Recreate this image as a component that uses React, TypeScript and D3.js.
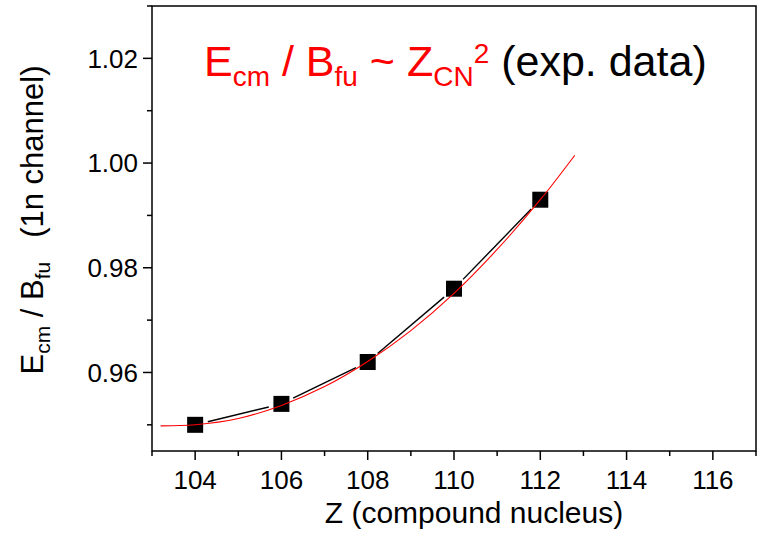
import React from "react";
import * as d3 from "d3";

const zValues = [104, 106, 108, 110, 112];
const ratioValues = [0.95, 0.954, 0.962, 0.976, 0.993];

// red fit curve
const fitZ = [103.2, 104, 105, 106, 107, 108, 109, 110, 111, 112, 112.8];
const fitRatio = [0.9498, 0.95, 0.9512, 0.9537, 0.9573, 0.9621, 0.968, 0.9751, 0.9835, 0.993, 1.0015];

const xMajorTicks = [104, 106, 108, 110, 112, 114, 116];
const xMinorTicks = [103, 105, 107, 109, 111, 113, 115, 117];
const yMajorTicks = [0.96, 0.98, 1.0, 1.02];
const yMinorTicks = [0.95, 0.97, 0.99, 1.01, 1.03];

const W = 761;
const H = 536;
const left = 152;
const right = 756;
const top = 6;
const bottom = 451;
const FONT = "'Liberation Sans', Arial, Helvetica, sans-serif";

export default function App() {
  const x = d3.scaleLinear().domain([103, 117]).range([left, right]);
  const y = d3.scaleLinear().domain([0.945, 1.03]).range([bottom, top]);

  const pts = zValues.map((z, i) => [x(z), y(ratioValues[i])] as [number, number]);
  const gap = 13;
  const segs: string[] = [];
  for (let i = 0; i < pts.length - 1; i++) {
    const [x1, y1] = pts[i];
    const [x2, y2] = pts[i + 1];
    const len = Math.hypot(x2 - x1, y2 - y1);
    const ux = (x2 - x1) / len;
    const uy = (y2 - y1) / len;
    segs.push(
      `M${x1 + ux * gap},${y1 + uy * gap}L${x2 - ux * gap},${y2 - uy * gap}`
    );
  }

  const fitLine = d3
    .line<number>()
    .x((d) => x(d))
    .y((_, i) => y(fitRatio[i]))
    .curve(d3.curveCatmullRom)(fitZ);

  const fmtY = d3.format(".2f");
  const ms = 16;

  return (
    <svg
      width={W}
      height={H}
      style={{ position: "absolute", left: 0, top: 0, background: "#fff" }}
      fontFamily={FONT}
    >
      <rect x={0} y={0} width={W} height={H} fill="#fff" />
      {/* frame */}
      <rect
        x={left}
        y={top}
        width={right - left}
        height={bottom - top}
        fill="none"
        stroke="#000"
        strokeWidth={1.5}
      />
      {/* x ticks */}
      {xMajorTicks.map((t) => (
        <g key={"xm" + t}>
          <line x1={x(t)} x2={x(t)} y1={bottom} y2={bottom + 9} stroke="#000" strokeWidth={1.5} />
          <text x={x(t)} y={489} fontSize={26} textAnchor="middle" fill="#000">
            {t}
          </text>
        </g>
      ))}
      {xMinorTicks.map((t) => (
        <line key={"xn" + t} x1={x(t)} x2={x(t)} y1={bottom} y2={bottom + 5} stroke="#000" strokeWidth={1.5} />
      ))}
      {/* y ticks */}
      {yMajorTicks.map((t) => (
        <g key={"ym" + t}>
          <line x1={left - 9} x2={left} y1={y(t)} y2={y(t)} stroke="#000" strokeWidth={1.5} />
          <text x={138} y={y(t)} dy="0.36em" fontSize={26} textAnchor="end" fill="#000">
            {fmtY(t)}
          </text>
        </g>
      ))}
      {yMinorTicks.map((t) => (
        <line key={"yn" + t} x1={left - 5} x2={left} y1={y(t)} y2={y(t)} stroke="#000" strokeWidth={1.5} />
      ))}

      {/* black connecting line */}
      {segs.map((d, i) => (
        <path key={"s" + i} d={d} fill="none" stroke="#000" strokeWidth={1.4} />
      ))}
      {/* markers */}
      {pts.map(([px, py], i) => (
        <rect key={"p" + i} x={px - ms / 2} y={py - ms / 2} width={ms} height={ms} fill="#000" />
      ))}
      {/* red fit */}
      <path d={fitLine || ""} fill="none" stroke="#ff0000" strokeWidth={1.1} />

      {/* title */}
      <text x={204} y={76.4} fontSize={43} fill="#ff0000">
        <tspan>E</tspan>
        <tspan fontSize={28} dy={9.7}>cm</tspan>
        <tspan dy={-9.7}> / B</tspan>
        <tspan fontSize={28} dy={9.7}>fu</tspan>
        <tspan dy={-9.7}> ~ Z</tspan>
        <tspan fontSize={28} dy={9.7}>CN</tspan>
        <tspan fontSize={28} dy={-23.1}>2</tspan>
        <tspan dy={13.4} fill="#000"> (exp. data)</tspan>
      </text>

      {/* x label */}
      <text x={474} y={523} fontSize={30} textAnchor="middle" fill="#000">
        Z (compound nucleus)
      </text>

      {/* y label */}
      <text
        transform={`translate(43,220) rotate(-90)`}
        fontSize={31}
        textAnchor="middle"
        fill="#000"
      >
        <tspan>E</tspan>
        <tspan fontSize={21} dy={7}>cm</tspan>
        <tspan dy={-7}> / B</tspan>
        <tspan fontSize={21} dy={7}>fu</tspan>
        <tspan dy={-7} dx={24}>(1n channel)</tspan>
      </text>
    </svg>
  );
}
